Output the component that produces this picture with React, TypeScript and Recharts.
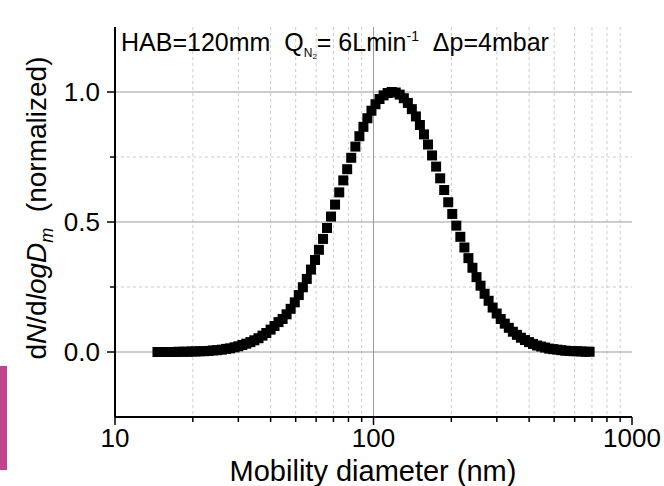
import { CartesianGrid, Customized, Scatter, ScatterChart, XAxis, YAxis } from "recharts";

// mobility diameters (nm), SMPS channel midpoints
const diameters = [
  14.6, 15.1, 15.7, 16.3, 17.0, 17.6, 18.4, 19.1, 19.8, 20.5, 21.3, 22.1, 23.0, 23.9, 24.8, 25.9,
  26.9, 27.9, 29.0, 30.0, 31.1, 32.2, 33.4, 34.6, 35.9, 37.2, 38.5, 40.0, 41.4, 42.9, 44.5, 46.1,
  47.8, 49.6, 51.4, 53.3, 55.2, 57.3, 59.4, 61.5, 63.8, 66.1, 68.5, 71.0, 73.7, 76.4, 79.1, 82.0,
  85.1, 88.2, 91.4, 94.7, 98.2, 101.8, 105.5, 109.4, 113.4, 117.6, 121.9, 126.3, 131.0, 135.8,
  140.7, 145.9, 151.2, 156.8, 162.5, 168.5, 174.7, 181.1, 187.7, 194.6, 201.7, 209.1, 216.7,
  224.7, 232.9, 241.4, 250.3, 259.5, 269.0, 278.8, 289.0, 299.6, 310.6, 322.0, 333.8, 346.0,
  358.7, 371.8, 385.4, 399.5, 414.2, 429.4, 445.1, 461.4, 478.3, 495.8, 514.0, 532.8, 552.3,
  572.5, 593.5, 615.3, 637.8, 661.2, 685.4,
];

// dN/dlogDm, normalized
const normalized = [
  0.0, 0.0, 0.0, 0.0, 0.0, 0.001, 0.001, 0.001, 0.002, 0.002, 0.003, 0.003, 0.004, 0.006, 0.007,
  0.009, 0.012, 0.014, 0.018, 0.022, 0.027, 0.032, 0.038, 0.045, 0.053, 0.063, 0.073, 0.086,
  0.1, 0.115, 0.127, 0.145, 0.166, 0.191, 0.219, 0.249, 0.281, 0.317, 0.354, 0.393, 0.435,
  0.477, 0.521, 0.567, 0.614, 0.66, 0.703, 0.747, 0.79, 0.83, 0.866, 0.899, 0.928, 0.953,
  0.973, 0.987, 0.996, 1.0, 0.998, 0.99, 0.976, 0.958, 0.934, 0.906, 0.873, 0.837, 0.798,
  0.756, 0.713, 0.668, 0.623, 0.576, 0.531, 0.486, 0.443, 0.402, 0.361, 0.324, 0.288, 0.255,
  0.224, 0.197, 0.171, 0.148, 0.127, 0.109, 0.093, 0.078, 0.066, 0.055, 0.046, 0.038, 0.031,
  0.025, 0.021, 0.017, 0.013, 0.011, 0.009, 0.007, 0.005, 0.004, 0.003, 0.003, 0.002, 0.001,
  0.001,
];

const majorX = [10, 100, 1000];
const minorX = [20, 30, 40, 50, 60, 70, 80, 90, 200, 300, 400, 500, 600, 700, 800, 900];
const xTicks = [...majorX, ...minorX].sort((a, b) => a - b);
const majorY = [0, 0.5, 1.0];
const minorY = [0.25, 0.75];
const yTicks = [0, 0.25, 0.5, 0.75, 1.0];

const data = diameters.map((d, i) => ({ d, v: normalized[i] }));

const FONT = "'Liberation Sans', Arial, sans-serif";

function BottomTick({ x, y, payload }: any) {
  const major = majorX.includes(payload.value);
  return (
    <g>
      <line x1={x} x2={x} y1={y} y2={y + (major ? 8 : 5)} stroke="#000" strokeWidth={1.5} />
      {major && (
        <text x={x} y={y + 30} textAnchor="middle" fontSize={26} fontFamily={FONT} fill="#000">
          {payload.value}
        </text>
      )}
    </g>
  );
}

function TopTick({ x, y, payload }: any) {
  const major = majorX.includes(payload.value);
  return <line x1={x} x2={x} y1={y} y2={y - (major ? 8 : 4)} stroke="#000" strokeWidth={1.5} />;
}

function LeftTick({ x, y, payload }: any) {
  const major = majorY.includes(payload.value);
  return (
    <g>
      <line x1={x} x2={x - (major ? 8 : 5)} y1={y} y2={y} stroke="#000" strokeWidth={1.5} />
      {major && (
        <text x={x - 15} y={y} dy="0.36em" textAnchor="end" fontSize={26} fontFamily={FONT} fill="#000">
          {payload.value.toFixed(1)}
        </text>
      )}
    </g>
  );
}

function RightTick({ x, y, payload }: any) {
  const major = majorY.includes(payload.value);
  return <line x1={x} x2={x + (major ? 8 : 4)} y1={y} y2={y} stroke="#000" strokeWidth={1.5} />;
}

function SquareMarker({ cx, cy }: any) {
  return <rect x={cx - 5} y={cy - 5} width={10} height={10} fill="#000" />;
}

function Texts() {
  return (
    <g fontFamily={FONT} fill="#000">
      <text x={121} y={51} fontSize={25} xmlSpace="preserve">
        HAB=120mm  Q
        <tspan fontSize={12} dy={6}>N</tspan>
        <tspan fontSize={8} dy={2}>2</tspan>
        <tspan dy={-8}>= 6Lmin</tspan>
        <tspan fontSize={14} dy={-10}>-1</tspan>
        <tspan dy={10}>  Δp=4mbar</tspan>
      </text>
      <text x={373} y={481} fontSize={29} textAnchor="middle">
        Mobility diameter (nm)
      </text>
      <text transform="translate(46,208) rotate(-90)" fontSize={28} textAnchor="middle" xmlSpace="preserve">
        d<tspan fontStyle="italic">N</tspan>/d<tspan fontStyle="italic">logD</tspan>
        <tspan fontStyle="italic" fontSize={18} dy={7}>m</tspan>
        <tspan dy={-7}>  (normalized)</tspan>
      </text>
    </g>
  );
}

export default function App() {
  return (
    <div style={{ position: "absolute", left: 0, top: 0, width: 664, height: 486, background: "#fff" }}>
      <div style={{ position: "absolute", left: 0, top: 366, width: 7, height: 104, background: "#c0468c" }} />
      <ScatterChart width={664} height={486} margin={{ top: 27, right: 32, bottom: 0, left: 0 }}>
        <CartesianGrid
          horizontalValues={minorY}
          verticalValues={minorX}
          stroke="#cccccc"
          strokeDasharray="3 3"
        />
        <CartesianGrid horizontalValues={majorY} verticalValues={[100]} stroke="#9a9a9a" />
        <XAxis
          dataKey="d"
          type="number"
          scale="log"
          domain={[10, 1000]}
          ticks={xTicks}
          interval={0}
          height={69}
          tickSize={0}
          tickMargin={0}
          tick={<BottomTick />}
          axisLine={{ stroke: "#000", strokeWidth: 2 }}
          allowDataOverflow
        />
        <XAxis
          xAxisId="top"
          orientation="top"
          dataKey="d"
          type="number"
          scale="log"
          domain={[10, 1000]}
          ticks={xTicks}
          interval={0}
          height={0}
          tickSize={0}
          tickMargin={0}
          tick={<TopTick />}
          axisLine={{ stroke: "#222", strokeWidth: 1.5 }}
          allowDataOverflow
        />
        <YAxis
          dataKey="v"
          type="number"
          domain={[-0.25, 1.25]}
          ticks={yTicks}
          interval={0}
          width={115}
          tickSize={0}
          tickMargin={0}
          tick={<LeftTick />}
          axisLine={{ stroke: "#000", strokeWidth: 2 }}
          allowDataOverflow
        />
        <YAxis
          yAxisId="right"
          orientation="right"
          dataKey="v"
          type="number"
          domain={[-0.25, 1.25]}
          ticks={yTicks}
          interval={0}
          width={0}
          tickSize={0}
          tickMargin={0}
          tick={<RightTick />}
          axisLine={{ stroke: "#222", strokeWidth: 1.5 }}
          allowDataOverflow
        />
        <Scatter data={data} shape={<SquareMarker />} isAnimationActive={false} />
        <Customized component={<Texts />} />
      </ScatterChart>
    </div>
  );
}
